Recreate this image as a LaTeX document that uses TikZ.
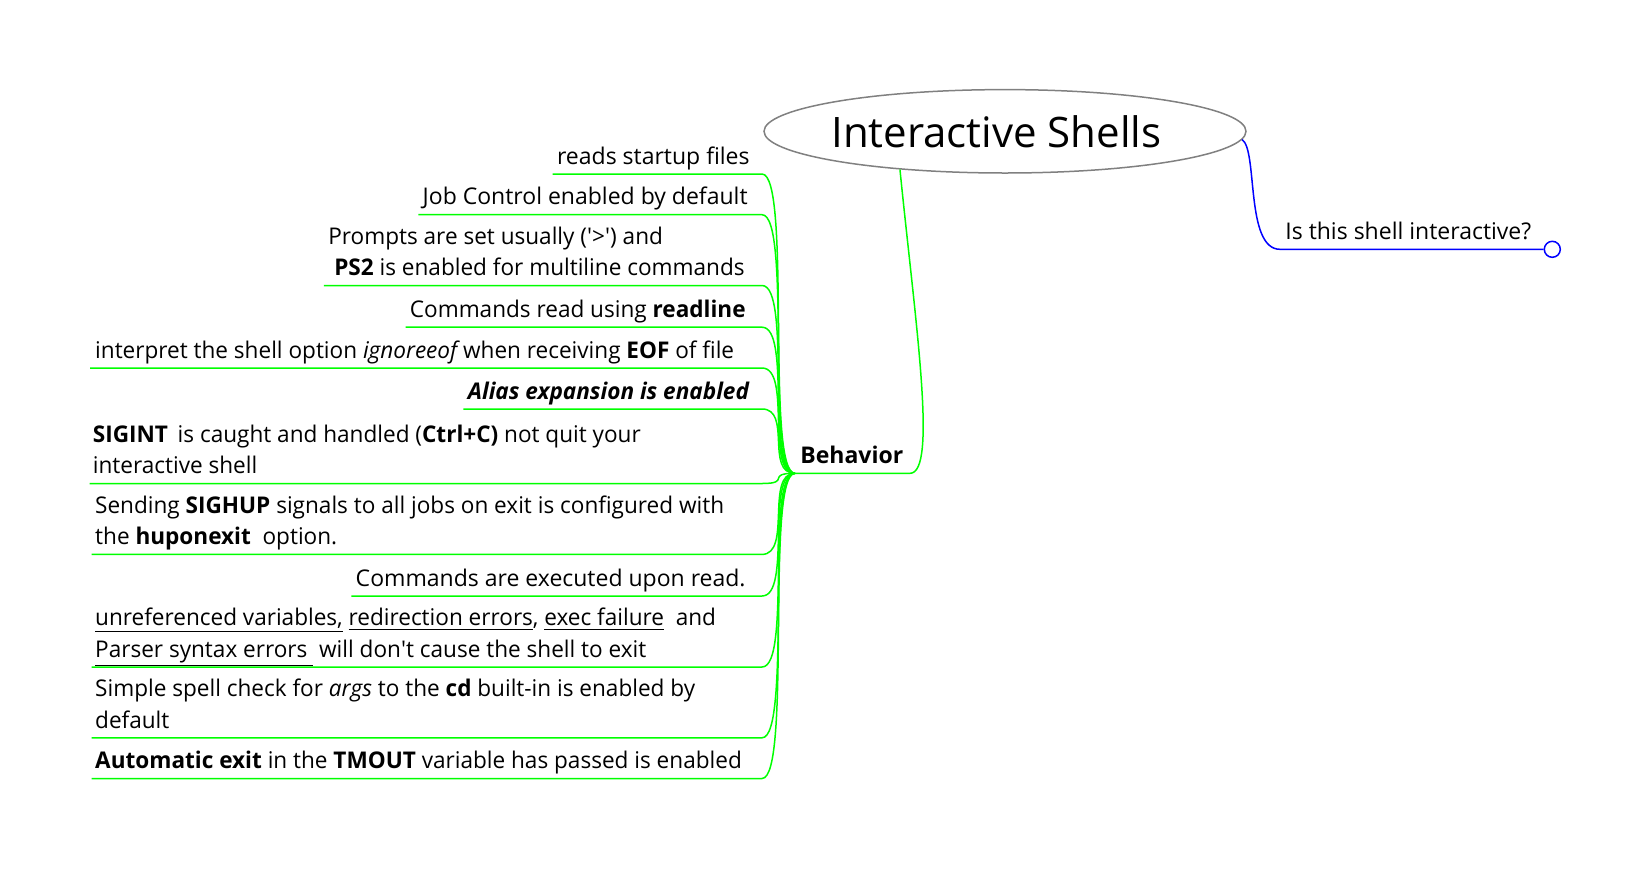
\documentclass[tikz,border=0pt]{standalone}
\usepackage{fontspec}
\setmainfont{Open Sans}
\newfontfamily\richfont{Open Sans}[FakeStretch=0.981]
\usetikzlibrary{shapes.geometric,calc}
\definecolor{edgegreen}{RGB}{0,255,0}
\definecolor{edgeblue}{RGB}{0,0,255}
\definecolor{rootgray}{RGB}{128,128,128}
\newcommand{\sq}{\textquotesingle}
\begin{document}
\begin{tikzpicture}[x=0.5pt,y=-0.5pt,
  leaf/.style={inner sep=0pt, align=left, font=\fontsize{11.5}{15.6}\selectfont},
  rich/.style={leaf, font=\richfont\fontsize{11.5}{15.6}\selectfont},
  gline/.style={draw=edgegreen, line width=0.75pt},
  bline/.style={draw=edgeblue, line width=0.75pt},
  tohub/.style={gline},
]
\useasboundingbox (0,0) rectangle (1634,868);

% root
\node[ellipse, draw=rootgray, line width=0.75pt, minimum width=241pt, minimum height=41.7pt, inner sep=0pt] (root) at (1005,131.3) {};
\node[font=\fontsize{21}{25}\selectfont, anchor=base, inner sep=0pt] (title) at (996.5,147) {Interactive Shells};

% right branch
\coordinate (isL) at (1280,249.3);
\node[circle, draw=edgeblue, fill=white, line width=0.75pt, minimum size=8pt, inner sep=0pt] (fold) at (1552.3,249.3) {};
\node[leaf, anchor=south west] (is) at (1285,249.3) {Is this shell interactive?\strut};
\draw[bline] (root.-2) .. controls (1258,150) and (1245,249.3) .. (isL) -- (fold.west);

% Behavior
\coordinate (hub) at (795,473.3);
\coordinate (behR) at (910,473.3);
\node[leaf, font=\fontsize{11.5}{15.6}\selectfont\bfseries, anchor=south west] (beh) at (800,473.3) {Behavior\strut};
\draw[gline] (root.200) .. controls (915,320) and (938,473.3) .. (behR) -- (hub);

% children
\node[leaf, anchor=south east] (c1) at (750,174) {reads startup files\strut};
\node[leaf, anchor=south east] (c2) at (748,214.7) {Job Control enabled by default\strut};
\node[rich, anchor=south east] (c3) at (745,285.5) {Prompts are set usually (\sq>\sq) and\\\hspace*{3pt}\textbf{PS2} is enabled for multiline commands\strut};
\node[rich, anchor=south east] (c4) at (746,327.2) {Commands read using \textbf{readline}\strut};
\node[rich, anchor=south west] (c5) at (94.8,368) {interpret the shell option {\itshape ignoreeof} when receiving \textbf{EOF} of file\strut};
\node[rich, anchor=south east] (c6) at (750,409) {\textbf{\textit{Alias expansion is enabled}}\strut};
\node[rich, anchor=south west] (c7) at (92.5,483.5) {\textbf{SIGINT}\, is caught and handled (\textbf{Ctrl+C)} not quit your\\interactive shell\strut};
\node[rich, anchor=south west] (c8) at (94.8,554.4) {Sending \textbf{SIGHUP} signals to all jobs on exit is configured with\\the \textbf{huponexit}\ \ option.\strut};
\node[leaf, anchor=south east] (c9) at (746,596) {Commands are executed upon read.\strut};
\node[rich, anchor=south west] (c10) at (94.8,667) {\underline{unreferenced variables,} \underline{redirection errors}, \underline{exec failure}\ \ and\\\underline{Parser syntax errors\ } will don\sq t cause the shell to exit\strut};
\node[rich, anchor=south west] (c11) at (94.8,737.8) {Simple spell check for {\itshape args} to the \textbf{cd} built-in is enabled by\\default\strut};
\node[rich, anchor=south west] (c12) at (94.8,778.5) {\textbf{Automatic exit} in the \textbf{TMOUT} variable has passed is enabled\strut};

% underline left ends
\foreach \i in {1,2,3,4,6,9} {
  \path (c\i.south west) ++(-4,0) coordinate (l\i);
}
\coordinate (l5) at (90,368);
\coordinate (l7) at (89.7,483.5);
\coordinate (l8) at (91.7,554.4);
\coordinate (l10) at (91.7,667);
\coordinate (l11) at (91.7,737.8);
\coordinate (l12) at (91.7,778.5);

% underline right ends
\foreach \i/\y in {1/174,2/214.7,3/285.5,4/327.2,5/368,6/409,7/483.5,8/554.4,9/596,10/667,11/737.8,12/778.5} {
  \coordinate (r\i) at (762,\y);
}

\foreach \i in {1,...,12} {
  \draw[tohub] (l\i) -- (r\i) .. controls +(30,0) and +(-30,0) .. (hub);
}
\end{tikzpicture}
\end{document}
